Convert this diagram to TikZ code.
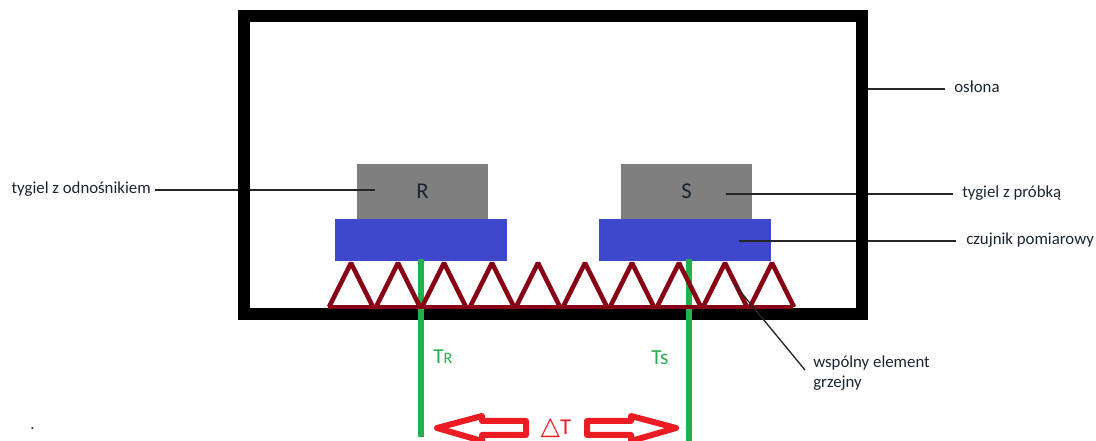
\documentclass[tikz,border=0pt]{standalone}
\usepackage{fontspec}
\setmainfont{Carlito}
\newfontfamily\symfont{DejaVu Sans}
\usetikzlibrary{positioning}
\definecolor{ink}{HTML}{1B2430}
\definecolor{crucible}{HTML}{7F7F7F}
\definecolor{sensor}{HTML}{3F48CC}
\definecolor{heater}{HTML}{880015}
\definecolor{probe}{HTML}{22B14C}
\definecolor{delta}{HTML}{ED1C24}
\tikzset{
  frame/.style={draw=black,line width=9pt,minimum width=463.5pt,minimum height=223.5pt,inner sep=0pt},
  cruc/.style={fill=crucible,minimum width=98.25pt,minimum height=41.25pt,inner sep=0pt,font=\fontsize{17}{19}\selectfont,text=ink},
  sens/.style={fill=sensor,minimum width=129pt,minimum height=31.5pt,inner sep=0pt},
  lbl/.style={align=left,inner sep=0pt,font=\fontsize{12.6}{14.5}\selectfont,text=ink},
  lead/.style={draw=black!85,line width=1pt},
  heat/.style={draw=heater,line width=3.4pt,line join=bevel},
  prb/.style={draw=probe,line width=5pt},
  prbl/.style={inner sep=0pt,text=probe,font=\fontsize{16}{18}\selectfont},
  darr/.style={draw=delta,line width=4.5pt,line join=round,fill=white},
}
\begin{document}
\begin{tikzpicture}[x=.75pt,y=-.75pt]
  \useasboundingbox (0,0) rectangle (1096,441);
  \node[lbl,anchor=east] (lblr) at (151,189) {tygiel z odnośnikiem};
  \node[lbl,anchor=west] (lbls) at (962,193) {tygiel z próbką};
  \node[lbl,anchor=west] (lblc) at (966,240) {czujnik pomiarowy};
  \node[lbl,anchor=west] (lblo) at (954,87) {osłona};
  \node[lbl,anchor=north west] (lblw) at (813,356) {wspólny element\\grzejny};
  \node[cruc] (r) at (422.5,191.5) {R};
  \node[cruc] (s) at (686.5,191.5) {S};
  \node[sens] (br) at (421,240) {};
  \node[sens] (bs) at (685,240) {};
  \coordinate (ar) at (375,190);
  \coordinate (as) at (726,194);
  \coordinate (ac) at (739,241);
  \coordinate (ao) at (862,89);
  \coordinate (aw) at (735,285);
  \coordinate (er) at (155,190);
  \coordinate (es) at (953,194);
  \coordinate (ec) at (956,241);
  \coordinate (eo) at (945,89);
  \coordinate (ew) at (805,370);
  \draw[lead] (er) -- (ar);
  \draw[lead] (es) -- (as);
  \draw[lead] (ec) -- (ac);
  \draw[lead] (eo) -- (ao);
  \node[frame] (box) at (553,165) {};
  \coordinate (tr) at (421,259);
  \coordinate (ts) at (689,259);
  \coordinate (er1) at (421,437);
  \coordinate (es1) at (689,441);
  \draw[prb] (tr) -- (er1);
  \draw[prb] (ts) -- (es1);
  \foreach \x in {351,398,444,492,538,585,632,679,725,772} {
    \draw[heat] (\x-22,307) -- (\x,263) -- (\x+22,307);
  }
  \draw[heat] (328,307) -- (793,307);
  \draw[lead] (ew) -- (aw);
  \node[prbl,anchor=west] (ltr) at (433,357) {T{\fontsize{12}{14}\selectfont R}};
  \node[prbl,anchor=west] (lts) at (651,358) {Ts};
  \node[inner sep=0pt,text=delta,font=\fontsize{17}{19}\selectfont] (dt) at (556,428) {{\symfont\fontsize{19}{19}\selectfont △}T};
  \draw[darr] (437,428) -- (482,416) -- (482,421) -- (526,421) -- (526,435) -- (482,435) -- (482,441) -- cycle;
  \draw[darr] (587,421) -- (631,421) -- (631,416) -- (676,428) -- (631,441) -- (631,435) -- (587,435) -- cycle;
  \node[lbl,anchor=west] (dot) at (30,429) {.};
\end{tikzpicture}
\end{document}
